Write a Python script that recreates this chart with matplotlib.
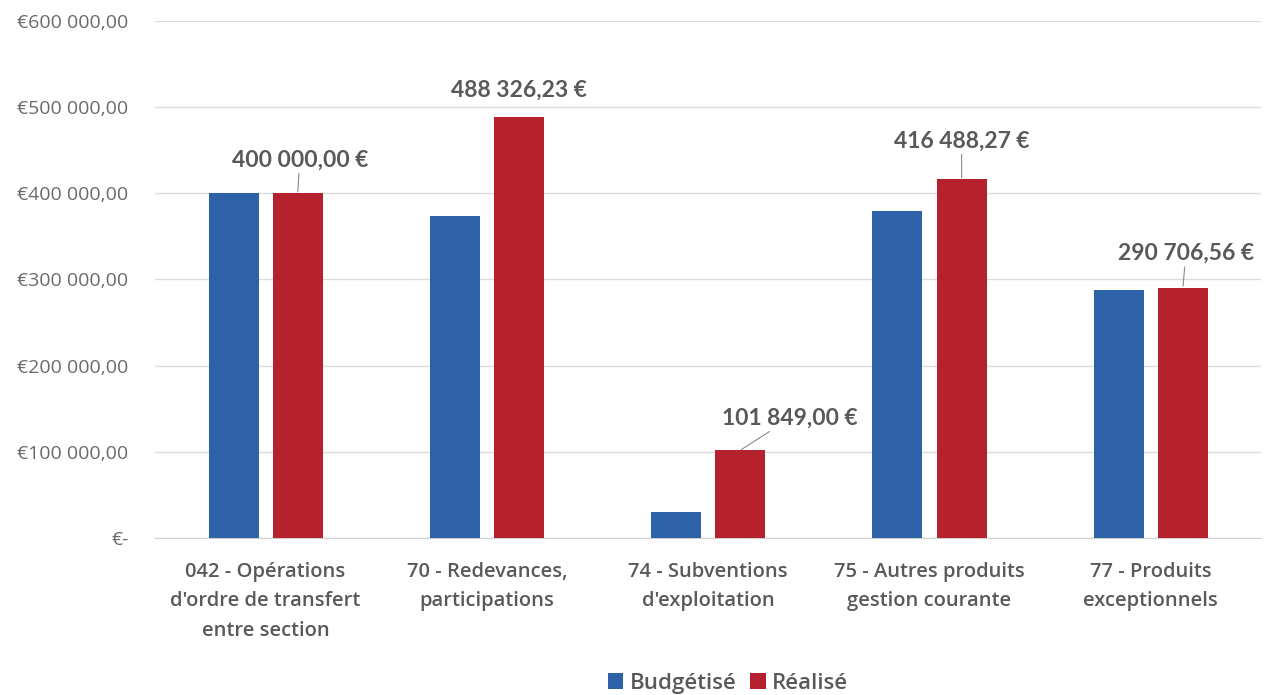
import numpy as np
import matplotlib.pyplot as plt
from matplotlib.ticker import FuncFormatter

categories = [
    "042 - Opérations\nd'ordre de transfert\nentre section",
    "70 - Redevances,\nparticipations",
    "74 - Subventions\nd'exploitation",
    "75 - Autres produits\ngestion courante",
    "77 - Produits\nexceptionnels",
]
budgetise = [400000, 373500, 30000, 379500, 288000]
realise = [400000.00, 488326.23, 101849.00, 416488.27, 290706.56]
yticks = [0, 100000, 200000, 300000, 400000, 500000, 600000]

# label offsets (pixels) relative to the top of each red bar
label_dx = [2, 0, 50, 0, 3]
label_dy = [33, 27, 32, 38, 34]
leader = [True, False, True, True, True]

blue = '#2D62A8'
red = '#B5222D'
grey = '#595959'

plt.rcParams['font.family'] = ['Open Sans', 'DejaVu Sans']

fig = plt.figure(figsize=(12.64, 6.95), dpi=100)
ax = fig.add_axes([0.1226, 0.2259, 0.8754, 0.7439])

x = np.arange(len(categories))
w = 0.226
off = 0.145
ax.bar(x - off, budgetise, w, color=blue, label='Budgétisé', zorder=3)
bars = ax.bar(x + off, realise, w, color=red, label='Réalisé', zorder=3)

def fr_money(v):
    s = f"{v:,.2f}"
    return s.replace(',', ' ').replace('.', ',')

for i, b in enumerate(bars):
    v = realise[i]
    ax.annotate(fr_money(v) + ' €',
                xy=(b.get_x() + b.get_width() / 2, v),
                xytext=(label_dx[i], label_dy[i]), textcoords='offset pixels',
                ha='center', va='center', fontsize=16.5, fontweight='bold', color=grey,
                family=['Lato', 'DejaVu Sans'],
                arrowprops=dict(arrowstyle='-', color='#8c8c8c', lw=0.8,
                                shrinkA=0, shrinkB=1) if leader[i] else None,
                zorder=4)

ax.set_xlim(-0.5, len(categories) - 0.5)
ax.set_ylim(0, 600000)
ax.set_yticks(yticks)
ax.yaxis.set_major_formatter(FuncFormatter(
    lambda v, p: '€-' if v == 0 else '€' + fr_money(v)))
ax.set_xticks(x)
ax.set_xticklabels(categories, fontsize=14.5, color=grey, linespacing=1.65,
                   fontweight='semibold')
ax.tick_params(axis='y', length=0, pad=19, labelsize=14, labelcolor='#6a6a6a')
ax.tick_params(axis='x', length=0, pad=17)
ax.grid(axis='y', color='#dcdcdc', lw=1, zorder=0)
for s in ['top', 'right', 'left']:
    ax.spines[s].set_visible(False)
ax.spines['bottom'].set_color('#d0d0d0')

fig.legend(loc='center', bbox_to_anchor=(0.576, 0.017), ncol=2, frameon=False,
           prop={'size': 16, 'weight': 'semibold'}, handlelength=0.7,
           handleheight=0.7, handletextpad=0.3, columnspacing=0.6, labelcolor=grey)

fig.savefig('out.png', dpi=100)
